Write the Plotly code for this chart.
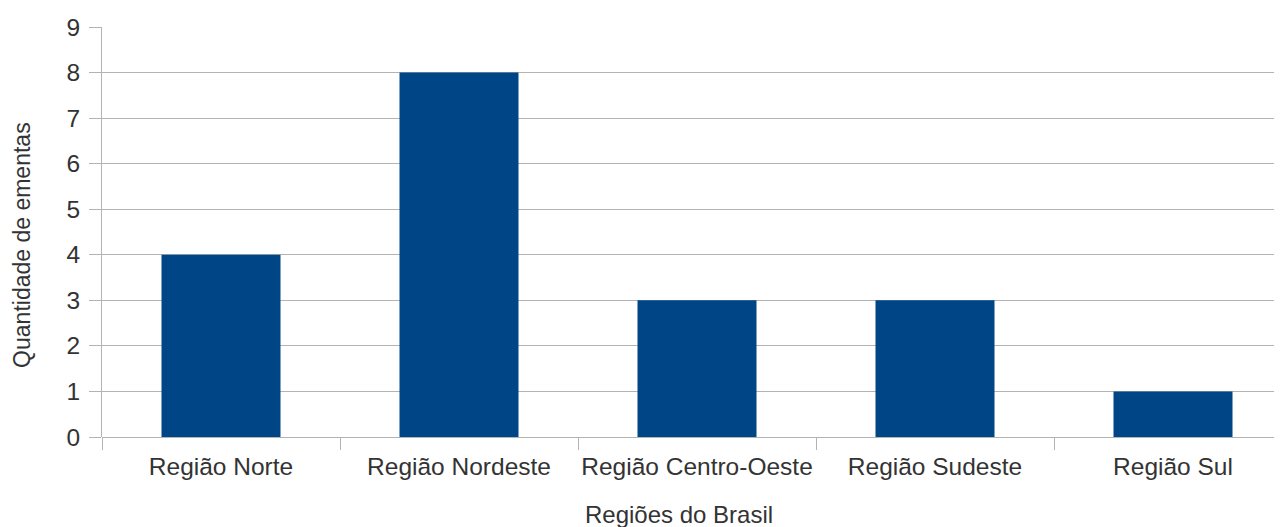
import plotly.graph_objects as go

categories = ["Região Norte", "Região Nordeste", "Região Centro-Oeste", "Região Sudeste", "Região Sul"]
values = [4, 8, 3, 3, 1]
x_title = "Regiões do Brasil"
y_title = "Quantidade de ementas"

font_family = "Liberation Sans, Arial, sans-serif"
text_color = "#333333"
grid_color = "#b3b3b3"

fig = go.Figure(
    go.Bar(x=categories, y=values, marker=dict(color="#004586", line=dict(width=0)), width=0.5)
)

fig.update_layout(
    width=1274, height=519,
    margin=dict(l=94, r=0, t=19, b=90),
    paper_bgcolor="white", plot_bgcolor="white",
    font=dict(family=font_family, size=24, color=text_color),
    showlegend=False,
)

fig.update_xaxes(
    range=[-0.5, 4.458],
    tickson="boundaries", ticks="outside", ticklen=12, tickcolor=grid_color, tickwidth=1,
    tickangle=0,
    showline=False, showgrid=False,
    tickfont=dict(size=24.5, color=text_color),
    ticklabelstandoff=12,
    automargin=False,
)
fig.update_yaxes(
    range=[0, 9], dtick=1,
    ticks="outside", ticklen=12, tickcolor=grid_color, tickwidth=1,
    showgrid=True, gridcolor=grid_color, gridwidth=1,
    zeroline=True, zerolinecolor=grid_color, zerolinewidth=1,
    showline=True, linecolor=grid_color, linewidth=1,
    tickfont=dict(size=24.5, color=text_color),
    ticklabelstandoff=4,
    automargin=False,
)

# axis titles placed as annotations relative to the plot area
fig.add_annotation(
    text=x_title, xref="paper", yref="paper", x=0.489, y=-0.188,
    xanchor="center", yanchor="middle", showarrow=False,
    font=dict(size=24, color=text_color),
)
fig.add_annotation(
    text=y_title, xref="paper", yref="paper", x=-0.068, y=0.468,
    xanchor="center", yanchor="middle", showarrow=False, textangle=-90,
    font=dict(size=23, color=text_color),
)

fig.write_html("out.html")
